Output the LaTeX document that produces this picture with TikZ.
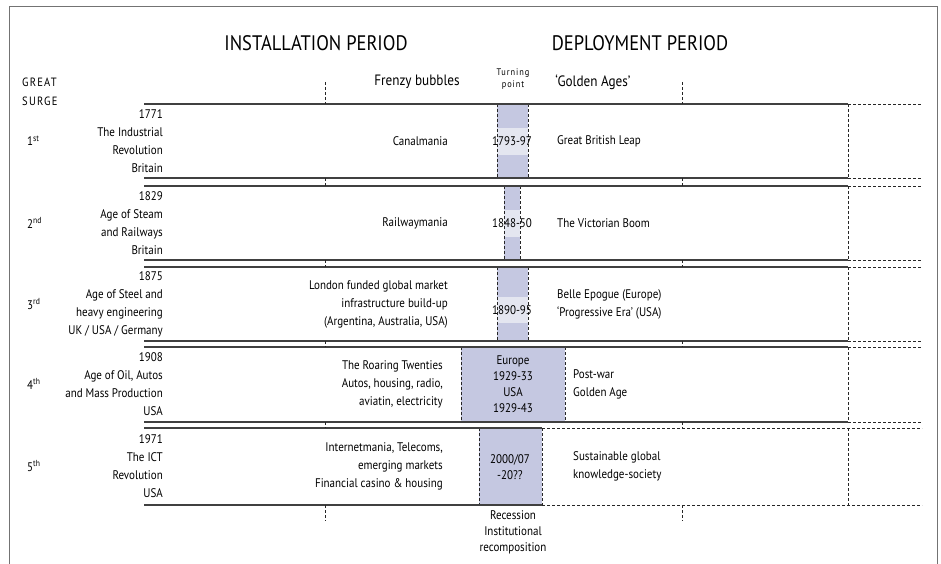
\documentclass[tikz,border=0pt]{standalone}
\usepackage{fontspec}
\setmainfont{PT Sans}[FakeStretch=0.88]
\usepackage{tikz}
\usetikzlibrary{positioning}
\definecolor{tpfill}{HTML}{C5C8E1}
\definecolor{tplight}{HTML}{E4E6F0}

\begin{document}
\begin{tikzpicture}[x=1pt, y=-1pt, node distance=2pt, font=\fontsize{12.5}{18}\selectfont]
	\tikzstyle{rowline} = [draw=black!75, line width=1.1pt]
	\tikzstyle{dashline} = [draw=black!85, line width=0.7pt, dash pattern=on 3pt off 2pt]
	\tikzstyle{tpbox} = [fill=tpfill]
	\tikzstyle{tpband} = [fill=tplight]
	\tikzstyle{wave} = [inner sep=0pt, anchor=west]
	\tikzstyle{surge} = [inner sep=0pt, align=right, anchor=east]
	\tikzstyle{frenzy} = [inner sep=0pt, align=right, anchor=east]
	\tikzstyle{golden} = [inner sep=0pt, align=left, anchor=west]
	\tikzstyle{tptext} = [inner sep=0pt, align=center, font=\fontsize{12.5}{16}\selectfont]
	\tikzstyle{periodtext} = [inner sep=0pt, font=\fontsize{21}{24}\selectfont]
	\tikzstyle{subhead} = [inner sep=0pt, font=\fontsize{15}{18}\selectfont]
	\tikzstyle{spaced} = [inner sep=0pt, font=\fontsize{12}{14}\selectfont\addfontfeatures{LetterSpace=10}]
	\useasboundingbox (0,0) rectangle (941,564);
	% frame
	\draw[black!55, line width=0.9pt] (9,564) -- (9,6) -- (937,6) -- (937,564);
	% turning point columns
	\foreach \l/\r/\t/\b in {497/528/104/178, 504/520/186/260, 497/528/267/341, 461/565/347/422, 479/542/428/505}
		\fill[tpbox] (\l,\t) rectangle (\r,\b);
	\fill[tpband] (497,128) rectangle (528,155);
	\fill[tpband] (504,210) rectangle (520,237);
	\fill[tpband] (497,297) rectangle (528,323);
	\foreach \l/\r/\t/\b in {497/528/104/178, 504/520/186/260, 497/528/267/341, 461/565/347/422, 479/542/428/505}
		\draw[dashline] (\l,\t) -- (\l,\b) (\r,\t) -- (\r,\b);
	% surge rows
	\foreach \t/\b in {104/178, 186/260, 267/341, 347/422} {
		\draw[rowline] (144,\t) -- (848,\t) (144,\b) -- (848,\b);
		\draw[dashline] (848,\t) -- (922,\t) (848,\b) -- (922,\b) (848,\t) -- (848,\b);
	}
	\draw[rowline] (144,428) -- (542,428) (144,505) -- (542,505);
	\draw[dashline] (542,428) -- (922,428) (542,505) -- (922,505) (848,428) -- (848,505);
	% period ticks
	\foreach \x in {325,682}
		\draw[dashline] (\x,82) -- (\x,104) (\x,178) -- (\x,186) (\x,260) -- (\x,267)
			(\x,341) -- (\x,347) (\x,422) -- (\x,428) (\x,505) -- (\x,521);
	% headings
	\node[periodtext] (inst) at (316,43) {INSTALLATION PERIOD};
	\node[periodtext] (depl) at (640,43) {DEPLOYMENT PERIOD};
	\node[spaced, anchor=west] (great) at (22,82) {GREAT};
	\node[spaced, anchor=west] (surgehd) at (22,101) {SURGE};
	\node[subhead] (bubbles) at (417,82) {Frenzy bubbles};
	\node[subhead] (golden) at (593,82) {`Golden Ages'};
	\node[spaced, font=\fontsize{9.5}{12}\selectfont\addfontfeatures{LetterSpace=10}] (turning) at (513,73) {Turning};
	\node[spaced, font=\fontsize{9.5}{12}\selectfont\addfontfeatures{LetterSpace=10}, below=3pt of turning] (point) {point};
	% 1st surge
	\node[wave] (w1) at (27,141) {1\textsuperscript{st}};
	\node[surge] (s1) at (163,141) {1771\\The Industrial\\Revolution\\Britain};
	\node[frenzy] (f1) at (448,141) {Canalmania};
	\node[tptext] (t1) at (512,141) {1793-97};
	\node[golden] (g1) at (557,141) {Great British Leap};
	% 2nd surge
	\node[wave] (w2) at (27,223) {2\textsuperscript{nd}};
	\node[surge] (s2) at (163,223) {1829\\Age of Steam\\and Railways\\Britain};
	\node[frenzy] (f2) at (448,223) {Railwaymania};
	\node[tptext] (t2) at (512,223) {1848-50};
	\node[golden] (g2) at (557,223) {The Victorian Boom};
	% 3rd surge
	\node[wave] (w3) at (27,304) {3\textsuperscript{rd}};
	\node[surge] (s3) at (163,304) {1875\\Age of Steel and\\heavy engineering\\UK / USA / Germany};
	\node[frenzy] (f3) at (448,304) {London funded global market\\infrastructure build-up\\(Argentina, Australia, USA)};
	\node[tptext] (t3) at (512,310) {1890-95};
	\node[golden] (g3) at (557,304) {Belle Epogue (Europe)\\`Progressive Era' (USA)};
	% 4th surge
	\node[wave] (w4) at (27,384) {4\textsuperscript{th}};
	\node[surge] (s4) at (163,384) {1908\\Age of Oil, Autos\\and Mass Production\\USA};
	\node[frenzy] (f4) at (443,384) {The Roaring Twenties\\Autos, housing, radio,\\aviatin, electricity};
	\node[tptext] (t4) at (513,384) {Europe\\1929-33\\USA\\1929-43};
	\node[golden] (g4) at (573,384) {Post-war\\Golden Age};
	% 5th surge
	\node[wave] (w5) at (27,466) {5\textsuperscript{th}};
	\node[surge] (s5) at (163,466) {1971\\The ICT\\Revolution\\USA};
	\node[frenzy] (f5) at (443,466) {Internetmania, Telecoms,\\emerging markets\\Financial casino \&  housing};
	\node[tptext] (t5) at (510,467) {2000/07\\-20??};
	\node[golden] (g5) at (573,466) {Sustainable global\\knowledge-society};
	\node[tptext] (recess) at (513,532) {Recession\\Institutional\\recomposition};
\end{tikzpicture}
\end{document}
